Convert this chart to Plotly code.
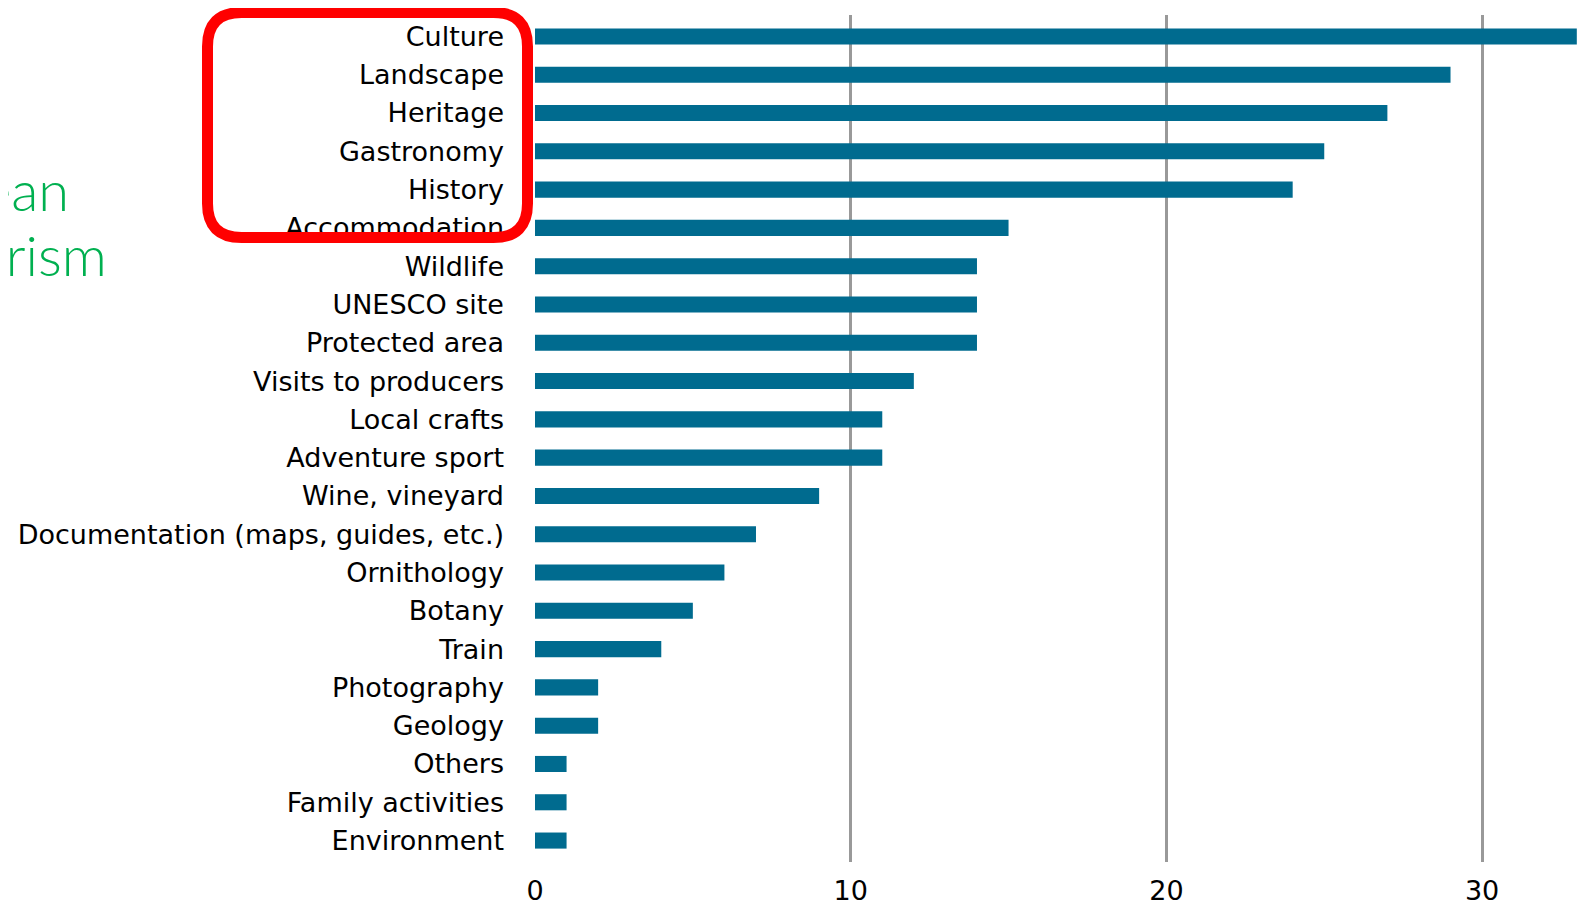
import plotly.graph_objects as go

categories = ["Culture", "Landscape", "Heritage", "Gastronomy", "History", "Accommodation",
              "Wildlife", "UNESCO site", "Protected area", "Visits to producers", "Local crafts",
              "Adventure sport", "Wine, vineyard", "Documentation (maps, guides, etc.)",
              "Ornithology", "Botany", "Train", "Photography", "Geology", "Others",
              "Family activities", "Environment"]
values = [33, 29, 27, 25, 24, 15, 14, 14, 14, 12, 11, 11, 9, 7, 6, 5, 4, 2, 2, 1, 1, 1]
x_ticks = [0, 10, 20, 30]
side_text = ["ean", "urism"]

# page geometry (the html body has an 8px default margin)
OFF = 8
PW, PH = 1586, 904
PL, PR, PT, PB = 535, 1586, 15, 862   # plot area in page pixels
W, H = PW - OFF, PH - OFF
pw, ph = PR - PL, PB - PT

def px(x):
    return (x - PL) / pw

def py(y):
    return (PB - y) / ph

cats_bottom_up = categories[::-1]
vals_bottom_up = values[::-1]

fig = go.Figure()
fig.add_trace(go.Bar(
    x=vals_bottom_up, y=cats_bottom_up, orientation="h",
    marker=dict(color="#006b8f", line=dict(width=0)),
    width=0.42, hoverinfo="x+y",
))

unit = 31.57
fig.update_layout(
    width=W, height=H,
    margin=dict(l=PL - OFF, r=W - (PR - OFF), t=PT - OFF, b=H - (PB - OFF), pad=0, autoexpand=False),
    paper_bgcolor="white", plot_bgcolor="white",
    showlegend=False,
    font=dict(family="DejaVu Sans", color="#000000", size=25),
    xaxis=dict(
        range=[0, pw / unit], tickvals=x_ticks, ticktext=[str(v) for v in x_ticks],
        showgrid=True, gridcolor="#999999", gridwidth=2.5,
        zeroline=False, showline=False, ticks="",
        ticklabelstandoff=10, automargin=False,
        tickfont=dict(family="DejaVu Sans", size=27, color="#000000"),
    ),
    yaxis=dict(
        type="category", categoryorder="array", categoryarray=cats_bottom_up,
        range=[-0.56, 21.56], showgrid=False, zeroline=False, showline=False,
        ticks="", ticklabelstandoff=30, automargin=False,
        tickfont=dict(family="DejaVu Sans", size=27, color="#000000"),
    ),
)

# red rounded rectangle highlight (page-pixel geometry converted to paper)
x0, x1, y0, y1, r = 207.5, 527.5, 12.5, 237.5, 34
path = (f"M {px(x0 + r)} {py(y0)} L {px(x1 - r)} {py(y0)} "
        f"Q {px(x1)} {py(y0)} {px(x1)} {py(y0 + r)} L {px(x1)} {py(y1 - r)} "
        f"Q {px(x1)} {py(y1)} {px(x1 - r)} {py(y1)} L {px(x0 + r)} {py(y1)} "
        f"Q {px(x0)} {py(y1)} {px(x0)} {py(y1 - r)} L {px(x0)} {py(y0 + r)} "
        f"Q {px(x0)} {py(y0)} {px(x0 + r)} {py(y0)} Z")
fig.add_shape(type="path", path=path, xref="paper", yref="paper",
              line=dict(color="#ff0000", width=11), layer="above")

for txt, xr, yc in zip(side_text, [71, 109], [189, 254]):
    fig.add_annotation(text=txt, xref="paper", yref="paper", x=px(xr), y=py(yc),
                       xanchor="right", yanchor="middle", showarrow=False,
                       font=dict(family="Lato", size=56, weight=300, color="#00b050"))

fig.write_html("out.html")
